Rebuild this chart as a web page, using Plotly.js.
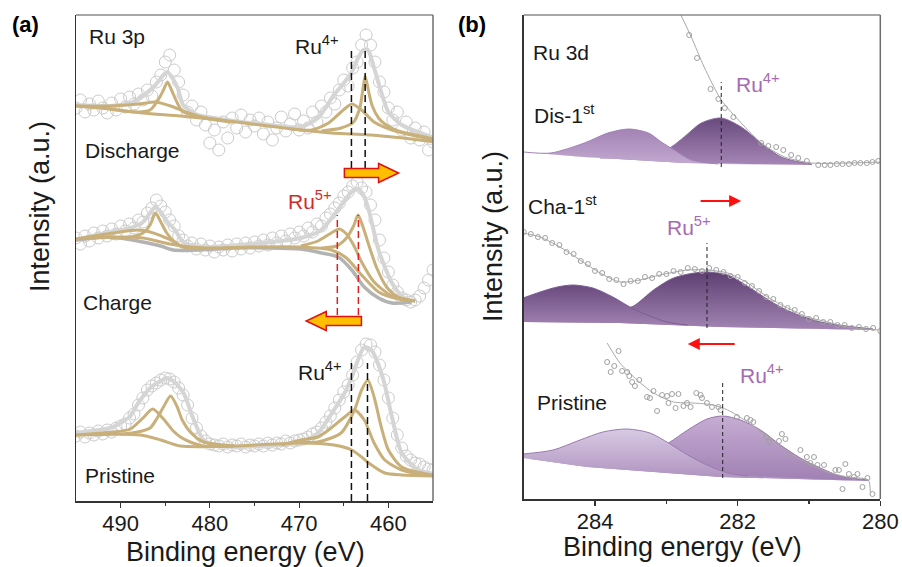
<!DOCTYPE html>
<html><head><meta charset="utf-8">
<script src="https://cdn.plot.ly/plotly-3.0.1.min.js"></script>
<style>html,body{margin:0;padding:0;background:#fff}#chart{width:902px;height:567px}</style>
</head><body><div id="chart"></div>
<script>
// ---------------- Panel (a): Ru 3p ----------------
const eGrid = [495,494.5,494,493.5,493,492.5,492,491.5,491,490.5,490,489.5,489,488.5,488,487.5,487,486.5,486,485.5,485,484.5,484,483.5,483,482.5,482,481.5,481,480.5,480,479.5,479,478.5,478,477.5,477,476.5,476,475.5,475,474.5,474,473.5,473,472.5,472,471.5,471,470.5,470,469.5,469,468.5,468,467.5,467,466.5,466,465.5,465,464.5,464,463.5,463,462.5,462,461.5,461,460.5,460,459.5,459,458.5,458,457.5,457,456.5,456,455.5,455];

// Discharge
const disPts = [393,401,389,397,391,400,393,388,398,391,402,394,404,397,407,401,411,405,419,426,439,446,431,419,406,389,395,381,389,376,358,371,351,379,363,383,373,386,369,381,375,383,367,379,361,373,384,370,377,387,371,380,373,389,379,395,389,403,397,411,421,415,433,439,456,466,456,439,419,409,393,381,389,371,379,363,373,361,369,351,359];
const disEnvE = [495,491.2,488.9,487.5,486.1,485.3,484.75,484.2,483.6,483.0,481.6,478.8,474.3,469.8,467.9,466.1,464.9,464.1,463.4,462.8,462.3,461.6,460.8,460.0,458.5,454.8];
const disEnvI = [396,395,398,405,416,425,429,423,413,396,387,382,377,374,383,406,419,429,443,451,451,433,409,389,376,363];
const disBkgE = [495,491.2,487.5,483.3,478.8,474.3,469.8,466.4,464.1,461.9,459.6,457.4,454.8];
const disBkgI = [395,392,388,385,381,376,371,368,367,366,364,362,359];
const disP1bE = [495,491.2,488.0,486.1,484.4,482.7,480.5,477.7];
const disP1bI = [395,395,397,399,395,389,383,379];
const disP1sE = [491.2,488.4,486.7,485.8,485.2,484.75,484.3,483.7,483.1,481.6,478.8];
const disP1sI = [392,389,391,401,411,419,411,399,390,385,381];
const disP2bE = [470.9,468.6,466.7,465.3,464.1,463.0,461.6,459.6,457.4,454.8];
const disP2bI = [372,371,378,389,397,391,379,371,366,361];
const disP2sE = [467.5,465.3,463.9,463.2,462.9,462.6,462.2,461.8,461.1,460.4,458.9,454.8];
const disP2sI = [370,373,379,393,409,425,409,395,383,377,370,362];

// Charge
const chaPts = [263,257,265,260,268,263,270,265,272,267,275,270,277,273,281,279,288,293,301,295,289,281,275,265,261,255,258,252,257,251,255,249,254,251,256,250,257,252,258,253,259,255,261,256,263,258,265,260,267,263,269,265,273,269,277,275,283,287,293,298,305,309,315,319,313,309,296,281,261,243,229,216,209,203,201,199,201,205,213,221,231];
const chaEnvE = [495,491.2,488.9,487.5,486.7,486.1,485.5,484.75,483.9,483.0,481.0,475.4,469.8,467.5,466.1,464.7,463.9,463.4,462.8,462.2,461.1,459.6,458.5,457.7];
const chaEnvI = [261,269,273,279,288,294,289,279,271,259,254,257,263,271,286,303,311,312,306,291,251,218,205,201];
const chaGreyE = [495,491.2,487.5,485.5,484.1,481.0,477.3,469.8,467.5,465.6,464.1,462.7,461.1,459.6,457.4];
const chaGreyI = [261,264,259,255,251,251,253,252,248,244,231,214,203,198,199];
const chaBkgE = [495,490.8,487.5,484.5,480.7,475.4,469.8,466.4,464.7,463.0,461.1,458.9,457.0];
const chaBkgI = [262,264,263,257,253,254,254,251,243,226,209,202,200];
const chaP1bE = [495,490.8,488.1,486.7,484.4,483.0,480.7];
const chaP1bI = [262,268,271,269,261,254,253];
const chaP1sE = [491.2,488.9,487.5,486.7,486.1,485.5,484.9,484.2,483.3,481.0];
const chaP1sI = [263,264,268,276,288,279,269,261,255,252];
const chaRu5E = [469.8,467.9,466.4,465.5,464.7,463.9,463.0,461.6,459.6,457.0];
const chaRu5I = [255,260,268,272,267,256,239,219,205,200];
const chaRu4E = [467.5,465.8,464.7,463.9,463.4,462.8,462.2,461.3,460.2,458.9,457.0];
const chaRu4I = [253,255,263,275,286,273,256,233,214,204,200];

// Pristine
const priPts = [65,69,64,68,66,70,67,71,69,73,75,77,83,87,96,103,111,115,118,121,123,122,119,113,106,96,83,73,65,60,57,56,55,57,54,56,55,57,54,56,55,57,55,58,56,58,57,60,58,60,61,62,64,67,69,73,79,85,93,101,109,116,126,139,151,157,156,149,136,121,103,83,66,53,45,41,38,37,34,32,31];
const priEnvE = [495,491.2,490.0,488.9,488.1,486.7,485.5,484.75,484.1,482.95,481.8,480.7,478.8,474.3,469.8,467.9,466.1,464.9,464.1,463.4,462.7,461.9,461.1,460.4,459.6,458.5,456.6,454.8];
const priEnvI = [68,73,78,85,97,113,120,123,120,108,81,61,55,55,59,68,91,108,124,141,154,151,136,116,84,48,31,27];
const priBkgE = [495,487.8,485.5,483.3,477.3,469.8,466.1,464.1,463.0,462.2,460.4,458.5,454.8];
const priBkgI = [66,66,61,55,55,58,56,51,44,38,28,26,25];
const priP1bE = [495,490.8,488.9,487.5,486.4,485.2,484.1,483.3,482.2,480.7,477.3];
const priP1bI = [66,69,72,83,92,82,70,64,59,55,55];
const priP1sE = [490.0,488.1,486.7,485.9,485.2,484.4,483.7,483.1,482.2,480.7,477.3];
const priP1sI = [67,69,73,83,94,105,95,81,69,59,55];
const priP2bE = [472.0,469.8,467.9,466.7,464.9,463.8,462.7,461.6,460.4,458.5,454.8];
const priP2bI = [56,61,64,71,84,91,81,58,41,31,25];
const priP2sE = [469.8,467.9,465.3,463.8,463.0,462.3,461.6,460.8,460.0,458.5,455.1];
const priP2sI = [59,59,68,91,111,121,104,74,51,34,26];

// ---------------- Panel (b): Ru 3d ----------------
const dFitE = [282.83,282.65,282.47,282.23,281.95,281.67,281.34,280.96,280.42,279.99];
const dFitI = [489,462,432,399,376,356,342,336,336,337];
const dPtE = [282.68,282.57,282.38,282.27,282.18,282.06,281.67,281.57,281.46,281.36,281.25,281.15,281.03,280.87,280.78,280.70,280.61,280.53,280.44,280.36,280.28,280.19,280.11,280.03];
const dPtI = [464,441,410,400,391,382,356,353,352,349,344,341,338,334,334,334,335,335,335,336,336,336,337,338];
const dBaseE = [285.0,284.15,282.75,280.96];
const dBaseI = [347,342,336,334];
const dC1E = [285.0,284.62,284.15,283.82,283.53,283.25,283.07,282.89,282.65,282.27];
const dC1I = [347,346,356,366,370,366,357,349,339,335];
const dC2E = [283.93,283.37,283.09,282.93,282.75,282.51,282.23,281.95,281.67,281.39,281.06,280.96];
const dC2I = [341,343,346,352,362,376,381,372,356,342,336,335];

const cFitE = [285.01,284.77,284.49,284.21,283.93,283.65,283.37,283.09,282.70,282.43,282.14,281.86,281.58,281.30,281.02,280.74,280.46,280.03];
const cFitI = [266,262,252,239,226,217,219,224,229,229,226,216,202,191,182,177,172,169];
const cPtE = [285.0,284.9,284.8,284.7,284.6,284.5,284.4,284.3,284.2,284.1,284.0,283.9,283.8,283.7,283.6,283.5,283.4,283.3,283.2,283.1,283.0,282.9,282.8,282.7,282.6,282.5,282.4,282.3,282.2,282.1,282.0,281.9,281.8,281.7,281.6,281.5,281.4,281.3,281.2,281.1,281.0,280.9,280.8,280.7,280.6,280.5,280.4,280.3,280.2,280.1,280.0];
const cPtI = [267,265,262,261,256,254,247,245,238,235,228,226,220,219,215,218,218,222,221,225,225,228,227,231,230,228,231,229,227,223,222,216,213,208,202,200,194,191,189,185,180,181,177,177,174,174,171,172,170,171,168];
const cBaseE = [285.01,283.65,282.24,280.10];
const cBaseI = [177,176,172,169];
const cC1E = [285.01,284.77,284.53,284.31,284.03,283.75,283.51,283.27,282.99,282.70];
const cC1I = [201,207,212,214,211,202,192,184,177,174];
const cC2E = [284.21,283.75,283.46,283.18,282.90,282.48,282.14,281.78,281.50,281.22,280.84,280.37,280.10];
const cC2I = [179,186,193,209,221,227,224,209,196,186,177,172,170];

const pFitE = [283.83,283.65,283.41,283.18,282.90,282.62,282.34,282.14,281.86,281.58,281.30,281.02,280.74,280.46,280.17,280.14];
const pFitI = [156,136,119,106,97,96,94,89,77,62,47,36,27,22,19,6];
const pPtE = [283.83,283.78,283.73,283.67,283.62,283.55,283.52,283.48,283.44,283.38,283.27,283.23,283.18,283.13,283.06,282.99,282.97,282.92,282.87,282.83,282.76,282.71,282.66,282.58,282.52,282.50,282.43,282.36,282.27,282.24,282.01,281.87,281.82,281.78,281.60,281.56,281.42,281.38,281.33,281.28,281.12,281.03,280.98,280.93,280.88,280.79,280.63,280.58,280.53,280.49,280.44,280.37,280.32,280.25,280.18,280.11];
const pPtI = [137,127,133,148,128,127,123,117,113,119,102,101,108,88,104,103,96,105,91,105,93,96,92,106,104,101,96,92,92,89,82,81,79,77,62,57,58,65,60,44,49,42,36,42,34,34,29,29,10,35,25,22,25,12,21,5];
const pBaseE = [285.01,284.11,282.24,280.17];
const pBaseI = [41,32,22,18];
const pC1E = [285.01,284.59,284.21,283.89,283.55,283.23,282.97,282.70,282.43,282.14,281.86];
const pC1I = [45,49,59,67,70,66,56,44,34,26,23];
const pC2E = [283.93,283.37,282.97,282.70,282.43,282.21,281.96,281.68,281.40,281.12,280.84,280.56,280.17];
const pC2I = [34,41,56,69,80,83,79,69,54,41,31,23,19];

// axis ticks
const aTicks = [490,480,470,460], aMinor = [485,475,465];
const bTicks = [284,282,280], bMinor = [283,281];

// ---------------- styles ----------------
const FONT = 'Liberation Sans, Arial, sans-serif';
const TAN = '#c9b07a', ENV = '#d5d5d5', CIRC = '#cbcbcb';
const W = 902, H = 567;
const px = v => v / W, py = v => 1 - v / H;

const traces = [];
function pts(x, y, ax) {
  traces.push({x, y, xaxis: ax[0], yaxis: ax[1], mode: 'markers', type: 'scatter',
    marker: {symbol: 'circle-open', size: 12, color: CIRC, line: {width: 1, color: CIRC}}, hoverinfo: 'skip'});
}
function line(x, y, color, width, ax) {
  traces.push({x, y, xaxis: ax[0], yaxis: ax[1], mode: 'lines', type: 'scatter',
    line: {color, width, shape: 'spline', smoothing: 0.7}, hoverinfo: 'skip'});
}
const A = ['x', 'y'];
pts(eGrid, disPts, A); pts(eGrid, chaPts, A); pts(eGrid, priPts, A);
line(disEnvE, disEnvI, ENV, 4, A); line(chaEnvE, chaEnvI, ENV, 4, A); line(priEnvE, priEnvI, ENV, 4, A);
line(chaGreyE, chaGreyI, '#b3b3b3', 3.5, A);
[[disBkgE, disBkgI], [disP1bE, disP1bI], [disP1sE, disP1sI], [disP2bE, disP2bI], [disP2sE, disP2sI],
 [chaBkgE, chaBkgI], [chaP1bE, chaP1bI], [chaP1sE, chaP1sI], [chaRu5E, chaRu5I], [chaRu4E, chaRu4I],
 [priBkgE, priBkgI], [priP1bE, priP1bI], [priP1sE, priP1sI], [priP2bE, priP2bI], [priP2sE, priP2sI]]
  .forEach(([x, y]) => line(x, y, TAN, 3, A));

// panel b fills
function comp(bx, by, cx, cy, top, bot, edge) {
  traces.push({x: bx, y: by, xaxis: 'x2', yaxis: 'y2', mode: 'lines', type: 'scatter',
    line: {color: 'rgba(0,0,0,0)', width: 0}, hoverinfo: 'skip'});
  traces.push({x: cx, y: cy, xaxis: 'x2', yaxis: 'y2', mode: 'lines', type: 'scatter', fill: 'tonexty',
    fillgradient: {type: 'vertical', colorscale: [[0, bot], [1, top]]},
    line: {color: edge, width: 1, shape: 'spline', smoothing: 0.8}, hoverinfo: 'skip'});
}
comp(dBaseE, dBaseI, dC2E, dC2I, '#694a7d', '#a686b6', '#8b6b9d');
comp(dBaseE, dBaseI, dC1E, dC1I, '#a283b5', '#c3a9d0', '#a283b5');
comp(cBaseE, cBaseI, cC2E, cC2I, '#5e3f72', '#a385b4', '#7d5e91');
comp(cBaseE, cBaseI, cC1E, cC1I, '#6a4a7e', '#a687b7', '#7d5e91');
comp(pBaseE, pBaseI, pC2E, pC2I, '#c6add3', '#a080b3', '#9676aa');
comp(pBaseE, pBaseI, pC1E, pC1I, '#d8cae3', '#ad90be', '#9a7aae');

function bline(x, y) {
  traces.push({x, y, xaxis: 'x2', yaxis: 'y2', mode: 'lines', type: 'scatter',
    line: {color: '#a8a8a8', width: 1, shape: 'spline', smoothing: 0.7}, hoverinfo: 'skip'});
}
function bpts(x, y) {
  traces.push({x, y, xaxis: 'x2', yaxis: 'y2', mode: 'markers', type: 'scatter',
    marker: {symbol: 'circle-open', size: 5, color: '#a0a0a0', line: {width: 1, color: '#a0a0a0'}}, hoverinfo: 'skip'});
}
bline(dFitE, dFitI); bpts(dPtE, dPtI);
bline(cFitE, cFitI); bpts(cPtE, cPtI);
bline(pFitE, pFitI); bpts(pPtE, pPtI);

// ---------------- shapes ----------------
const shapes = [];
function dash(xr, yr, x, y0, y1, color, w, d) {
  shapes.push({type: 'line', xref: xr, yref: yr, x0: x, x1: x, y0, y1, line: {color, width: w, dash: d}});
}
dash('x', 'y', 464.14, 333, 451, '#111', 1.5, '7px,4px');
dash('x', 'y', 462.6, 333, 451, '#111', 1.5, '7px,4px');
dash('x', 'y', 465.72, 186, 286, '#e02020', 1.5, '7px,4px');
dash('x', 'y', 463.36, 186, 286, '#e02020', 1.5, '7px,4px');
dash('x', 'y', 464.14, 0, 138, '#111', 1.5, '7px,4px');
dash('x', 'y', 462.34, 0, 138, '#111', 1.5, '7px,4px');
dash('x2', 'y2', 282.23, 332, 417, '#222', 1, '4px,3px');
dash('x2', 'y2', 282.43, 171, 256, '#222', 1, '4px,3px');
dash('x2', 'y2', 282.21, 21, 117, '#222', 1, '4px,3px');

function blockArrow(tail, headBase, tip, yc) {
  const b = 4.5, h = 9.5;
  return `M${tail},${yc + b} L${headBase},${yc + b} L${headBase},${yc + h} L${tip},${yc} L${headBase},${yc - h} L${headBase},${yc - b} L${tail},${yc - b} Z`;
}
shapes.push({type: 'path', xref: 'x', yref: 'y', path: blockArrow(464.93, 461.10, 458.85, 328),
  fillcolor: '#ffbe00', line: {color: '#e01010', width: 1.5}});
shapes.push({type: 'path', xref: 'x', yref: 'y', path: blockArrow(463.02, 466.96, 469.21, 180),
  fillcolor: '#ffbe00', line: {color: '#e01010', width: 1.5}});

// frame top/right (grey)
[[76, 433, 15, 501], [523.7, 880.3, 15, 499]].forEach(([l, r, t, b]) => {
  shapes.push({type: 'line', xref: 'paper', yref: 'paper', x0: px(l), x1: px(r), y0: py(t), y1: py(t), line: {color: '#8a8a8a', width: 1.5}});
  shapes.push({type: 'line', xref: 'paper', yref: 'paper', x0: px(r), x1: px(r), y0: py(b), y1: py(t), line: {color: '#6e6e6e', width: 1.5}});
});

// ---------------- annotations ----------------
const ann = [];
function txt(text, x, y, size, color, opts) {
  ann.push(Object.assign({text, xref: 'paper', yref: 'paper', x: px(x), y: py(y), xanchor: 'left', yanchor: 'middle',
    showarrow: false, font: {family: FONT, size, color}}, opts || {}));
}
const DK = '#1a1a1a', RED = '#d42a2a', PUR = '#a66ab2';
txt('<b>(a)</b>', 10, 25, 22, '#000');
txt('<b>(b)</b>', 456, 25, 22, '#000');
txt('Ru 3p', 87, 36, 21, DK);
txt('Discharge', 83, 150, 21, DK);
txt('Charge', 81, 302, 21, DK);
txt('Pristine', 83, 475, 21, DK);
txt('Ru<sup>4+</sup>', 293, 45, 21, DK);
txt('Ru<sup>5+</sup>', 286, 200, 21, RED);
txt('Ru<sup>4+</sup>', 296, 371, 21, DK);
txt('Ru 3d', 531, 52, 21, DK);
txt('Ru<sup>4+</sup>', 734, 83, 21, PUR);
txt('Dis-1<sup>st</sup>', 532, 114, 21, DK);
txt('Cha-1<sup>st</sup>', 526, 205, 21, DK);
txt('Ru<sup>5+</sup>', 665, 226, 21, PUR);
txt('Pristine', 535, 402, 21, DK);
txt('Ru<sup>4+</sup>', 738, 374, 21, PUR);
txt('Binding energy (eV)', 246, 552, 27, DK, {xanchor: 'center'});
txt('Binding energy (eV)', 682, 547, 27, DK, {xanchor: 'center'});
txt('Intensity (a.u.)', 40, 207, 27, DK, {xanchor: 'center', textangle: -90});
txt('Intensity (a.u.)', 493, 236, 27, DK, {xanchor: 'center', textangle: -90});

// thin red arrows panel b
ann.push({xref: 'x2', yref: 'y2', axref: 'x2', ayref: 'y2', x: 281.95, y: 298, ax: 282.54, ay: 298, text: '',
  showarrow: true, arrowhead: 2, arrowsize: 1.1, arrowwidth: 2.2, arrowcolor: '#ff1010'});
ann.push({xref: 'x2', yref: 'y2', axref: 'x2', ayref: 'y2', x: 282.70, y: 155, ax: 282.02, ay: 155, text: '',
  showarrow: true, arrowhead: 2, arrowsize: 1.1, arrowwidth: 2.2, arrowcolor: '#ff1010'});

const xbase = {showgrid: false, zeroline: false, showline: true, linecolor: '#333', linewidth: 1.5,
  ticks: 'outside', ticklen: 5, tickwidth: 1.2, tickcolor: '#333', ticklabelstandoff: -3,
  tickfont: {family: FONT, size: 22, color: DK}, fixedrange: true};
const ybase = {showgrid: false, zeroline: false, showline: true, linecolor: '#333', linewidth: 1.5,
  showticklabels: false, ticks: '', fixedrange: true};

const layout = {
  width: W, height: H, margin: {l: 0, r: 0, t: 0, b: 0}, paper_bgcolor: '#fff', plot_bgcolor: '#fff',
  showlegend: false,
  xaxis: Object.assign({}, xbase, {domain: [px(76), px(433)], range: [495, 455], tickmode: 'array', tickvals: aTicks,
    minor: {tickmode: 'array', tickvals: aMinor, ticks: 'outside', ticklen: 3, tickcolor: '#333', showgrid: false}, anchor: 'y'}),
  yaxis: Object.assign({}, ybase, {domain: [py(501), py(15)], range: [0, 486], anchor: 'x'}),
  xaxis2: Object.assign({}, xbase, {domain: [px(523.7), px(880.3)], range: [285, 280], tickmode: 'array', tickvals: bTicks,
    minor: {tickmode: 'array', tickvals: bMinor, ticks: 'outside', ticklen: 3, tickcolor: '#333', showgrid: false}, anchor: 'y2'}),
  yaxis2: Object.assign({}, ybase, {domain: [py(499), py(15)], range: [0, 484], anchor: 'x2'}),
  shapes, annotations: ann
};
Plotly.newPlot('chart', traces, layout, {staticPlot: true, displayModeBar: false});
</script></body></html>
